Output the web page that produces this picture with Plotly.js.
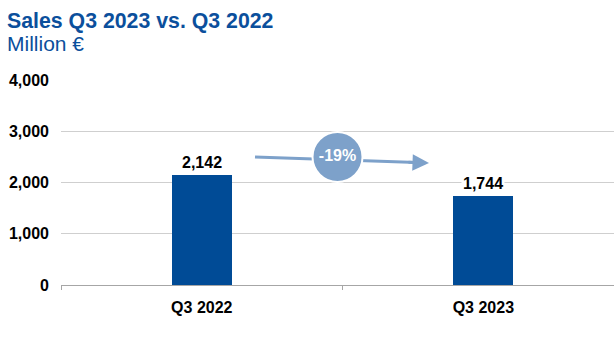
<!DOCTYPE html>
<html>
<head>
<meta charset="utf-8">
<script src="https://cdn.plot.ly/plotly-3.0.1.min.js"></script>
<style>html,body{margin:0;padding:0;background:#fff;}#chart{width:614px;height:358px;}</style>
</head>
<body>
<div id="chart"></div>
<script>
var categories = ["Q3 2022", "Q3 2023"];
var sales = [2142, 1744];
var yTicks = [0, 1000, 2000, 3000, 4000];
var yTickLabels = ["0", "1,000", "2,000", "3,000", "4,000"];

var barColor = "#004B96";
var accent = "#7DA1CA";
var idx = categories.map(function(c, i){ return i; });
var change = Math.round((sales[1] - sales[0]) / sales[0] * 100);
var changeText = (change > 0 ? "+" : "") + change + "%";

var fontFam = "Arial, 'Liberation Sans', sans-serif";

var traces = [
  {
    type: "bar", x: idx, y: sales, width: 0.213,
    marker: {color: barColor}, hoverinfo: "skip", showlegend: false
  },
  {
    type: "scatter", mode: "markers+text", x: [0.482], y: [2498], text: [changeText],
    textposition: "middle center",
    textfont: {family: fontFam, size: 16, color: "#ffffff", weight: "bold"},
    marker: {size: 50, color: accent, line: {color: "#ffffff", width: 2}},
    hoverinfo: "skip", showlegend: false, cliponaxis: false
  }
];

var annotations = sales.map(function(v, i){
  return {
    x: idx[i], y: v, xref: "x", yref: "y", yanchor: "bottom", yshift: 2,
    text: v.toLocaleString("en-US"), showarrow: false, bgcolor: "#ffffff", borderpad: 1,
    font: {family: fontFam, size: 16, color: "#000000", weight: "bold"}
  };
});
annotations.push({
  x: 0.807, y: 2380, xref: "x", yref: "y", ax: -22, ay: -0.8,
  showarrow: true, arrowhead: 2, arrowsize: 1.1, arrowwidth: 3, arrowcolor: accent, text: ""
});
annotations.push({
  x: -0.0997, y: 1.18, xref: "paper", yref: "paper", xanchor: "left", yanchor: "middle",
  text: "Million €", showarrow: false, borderpad: 0,
  font: {family: fontFam, size: 21, color: "#0B4F9C"}
});

var layout = {
  width: 614, height: 358,
  margin: {l: 61, r: 0, t: 80, b: 73, pad: 0},
  paper_bgcolor: "#ffffff", plot_bgcolor: "#ffffff",
  title: {
    text: "<b>Sales Q3 2023 vs. Q3 2022</b>",
    x: 7/614, xref: "container", xanchor: "left",
    y: 1 - 21/358, yref: "container", yanchor: "middle",
    font: {family: fontFam, size: 21.3, color: "#0B4F9C"}
  },
  xaxis: {
    type: "linear", range: [-0.5, 1.464], tickvals: idx, ticktext: categories,
    ticks: "", showgrid: false, zeroline: false,
    showline: true, linecolor: "#A6A6A6", linewidth: 1,
    minor: {tickvals: [-0.5, 0.5, 1.5], ticks: "outside", ticklen: 4, tickcolor: "#A6A6A6", showgrid: false},
    tickfont: {family: fontFam, size: 16, color: "#000000", weight: "bold"},
    ticklabelstandoff: 8, fixedrange: true
  },
  yaxis: {
    range: [0, 4000], tickvals: yTicks, ticktext: yTickLabels,
    showgrid: true, gridcolor: "#CFCFCF", gridwidth: 1, zeroline: false, showline: false,
    tickfont: {family: fontFam, size: 16, color: "#000000", weight: "bold"},
    ticklabelstandoff: 11, fixedrange: true
  },
  shapes: [{
    type: "line", xref: "x", yref: "y", x0: 0.189, y0: 2498, x1: 0.79, y1: 2385,
    line: {color: accent, width: 3}, layer: "below"
  }],
  annotations: annotations,
  bargap: 0
};

Plotly.newPlot("chart", traces, layout, {displayModeBar: false, staticPlot: true});
</script>
</body>
</html>
